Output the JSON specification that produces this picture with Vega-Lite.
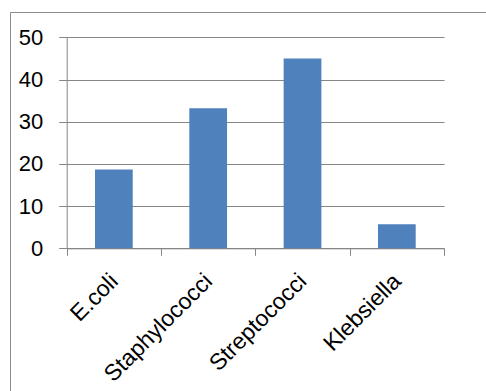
{
  "$schema": "https://vega.github.io/schema/vega-lite/v6.json",
  "autosize": "none",
  "width": 476,
  "height": 379,
  "padding": {"left": 10, "top": 12, "right": 0, "bottom": 0},
  "background": "white",
  "config": {
    "view": {"stroke": "#8c8c8c", "strokeWidth": 1},
    "font": "Liberation Sans"
  },
  "data": {
    "values": [
      {"organism": "E.coli", "value": 18.7},
      {"organism": "Staphylococci", "value": 33.2},
      {"organism": "Streptococci", "value": 45.0},
      {"organism": "Klebsiella", "value": 5.7}
    ]
  },
  "mark": {"type": "bar", "color": "#4F81BD", "width": {"band": 0.4}},
  "encoding": {
    "x": {
      "field": "organism",
      "type": "nominal",
      "sort": null,
      "scale": {"range": [56.7, 434], "paddingInner": 0, "paddingOuter": 0},
      "axis": {
        "title": null,
        "offset": -142.7,
        "labelAngle": -45,
        "labelAlign": "right",
        "labelBaseline": "middle",
        "labelFontSize": 23,
        "labelColor": "#000000",
        "labelPadding": 22,
        "tickSize": 7,
        "tickColor": "#868686",
        "domainColor": "#868686",
        "tickBand": "extent",
        "grid": false
      }
    },
    "y": {
      "field": "value",
      "type": "quantitative",
      "scale": {"domain": [0, 50], "range": [236.3, 25.3], "nice": false},
      "axis": {
        "title": null,
        "offset": -56.7,
        "values": [0, 10, 20, 30, 40, 50],
        "labelFontSize": 22,
        "labelColor": "#000000",
        "labelPadding": 16,
        "tickSize": 8,
        "tickColor": "#868686",
        "domainColor": "#868686",
        "grid": true,
        "gridColor": "#868686",
        "gridOpacity": 1
      }
    }
  }
}
